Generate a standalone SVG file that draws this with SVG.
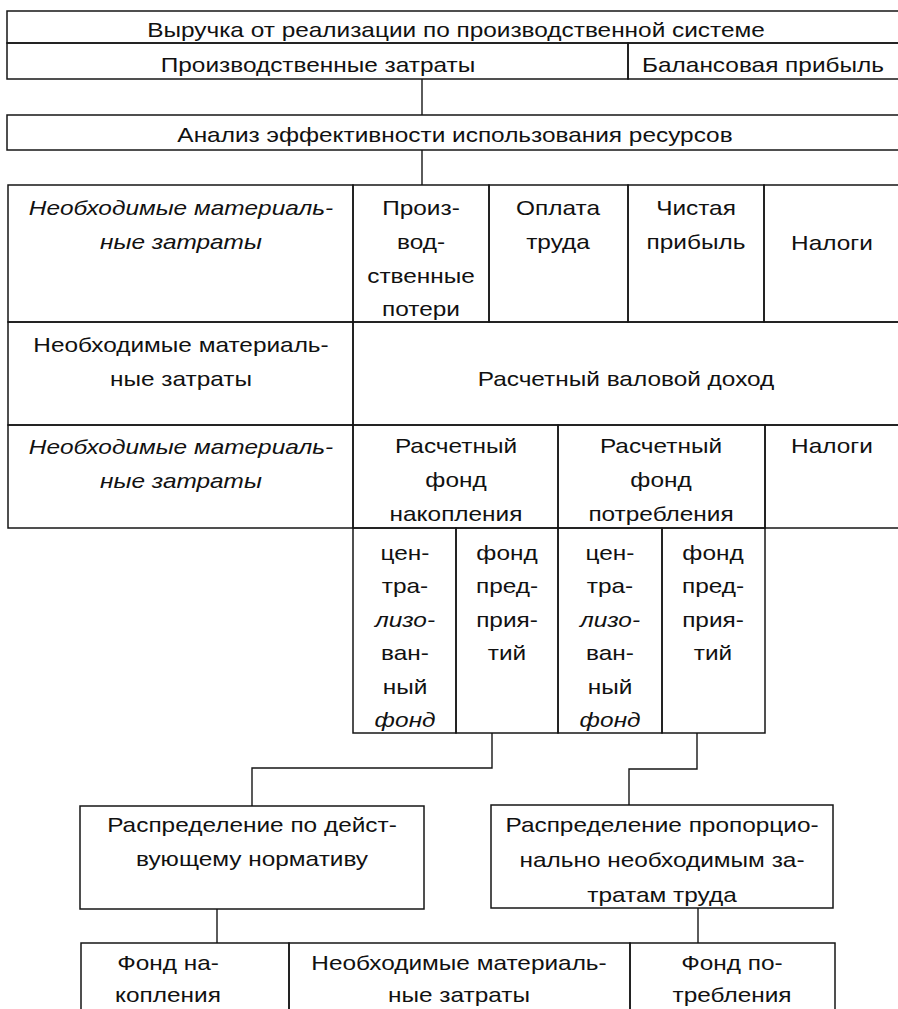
<svg xmlns="http://www.w3.org/2000/svg" width="898" height="1009" viewBox="0 0 898 1009">
<style>
rect{fill:none;stroke:#161616;stroke-width:1.5}
path{fill:none;stroke:#161616;stroke-width:1.4}
text{font-family:"Liberation Sans",Arial,sans-serif;font-size:20px;fill:#111;text-anchor:middle}
.i{font-style:italic}
</style>
<rect x="0" y="0" width="898" height="1009" style="fill:#fff;stroke:none"/>
<g id="n-vyruchka"><rect x="7" y="11" width="900" height="32"/><text transform="translate(456,37) scale(1.22 1)">Выручка от реализации по производственной системе</text></g>
<g id="n-proizv-zatraty"><rect x="7" y="43" width="621" height="36"/><text transform="translate(318,72) scale(1.22 1)">Производственные затраты</text></g>
<g id="n-balans-pribyl"><rect x="628" y="43" width="279" height="36"/><text transform="translate(763,72) scale(1.22 1)">Балансовая прибыль</text></g>
<g id="n-analiz"><rect x="7" y="115" width="900" height="35"/><text transform="translate(455,142) scale(1.22 1)">Анализ эффективности использования ресурсов</text></g>
<g id="n-a1"><rect x="8" y="185" width="345" height="137"/><text class="i" transform="translate(181,215) scale(1.22 1)"><tspan x="0" y="0">Необходимые материаль-</tspan><tspan x="0" y="34">ные затраты</tspan></text></g>
<g id="n-a2"><rect x="353" y="185" width="136" height="137"/><text transform="translate(421,215) scale(1.22 1)"><tspan x="0" y="0">Произ-</tspan><tspan x="0" y="34">вод-</tspan><tspan x="0" y="68">ственные</tspan><tspan x="0" y="101">потери</tspan></text></g>
<g id="n-a3"><rect x="489" y="185" width="139" height="137"/><text transform="translate(558,215) scale(1.22 1)"><tspan x="0" y="0">Оплата</tspan><tspan x="0" y="34">труда</tspan></text></g>
<g id="n-a4"><rect x="628" y="185" width="136" height="137"/><text transform="translate(696,215) scale(1.22 1)"><tspan x="0" y="0">Чистая</tspan><tspan x="0" y="34">прибыль</tspan></text></g>
<g id="n-a5"><rect x="764" y="185" width="143" height="137"/><text transform="translate(832,250) scale(1.22 1)">Налоги</text></g>
<g id="n-b1"><rect x="8" y="322" width="345" height="103"/><text transform="translate(181,352) scale(1.22 1)"><tspan x="0" y="0">Необходимые материаль-</tspan><tspan x="0" y="34">ные затраты</tspan></text></g>
<g id="n-b2"><rect x="353" y="322" width="554" height="103"/><text transform="translate(626,386) scale(1.22 1)">Расчетный валовой доход</text></g>
<g id="n-c1"><rect x="8" y="425" width="345" height="103"/><text class="i" transform="translate(181,454) scale(1.22 1)"><tspan x="0" y="0">Необходимые материаль-</tspan><tspan x="0" y="34">ные затраты</tspan></text></g>
<g id="n-c2"><rect x="353" y="425" width="205" height="103"/><text transform="translate(456,453) scale(1.22 1)"><tspan x="0" y="0">Расчетный</tspan><tspan x="0" y="34">фонд</tspan><tspan x="0" y="68">накопления</tspan></text></g>
<g id="n-c3"><rect x="558" y="425" width="207" height="103"/><text transform="translate(661,453) scale(1.22 1)"><tspan x="0" y="0">Расчетный</tspan><tspan x="0" y="34">фонд</tspan><tspan x="0" y="68">потребления</tspan></text></g>
<g id="n-c4"><rect x="765" y="425" width="142" height="103"/><text transform="translate(832,453) scale(1.22 1)">Налоги</text></g>
<g id="n-s1"><rect x="353" y="528" width="103" height="205"/><text transform="translate(405,560) scale(1.22 1)"><tspan x="0" y="0">цен-</tspan><tspan x="0" y="33.5">тра-</tspan><tspan class="i" x="0" y="67">лизо-</tspan><tspan x="0" y="100.5">ван-</tspan><tspan x="0" y="134">ный</tspan><tspan class="i" x="0" y="167">фонд</tspan></text></g>
<g id="n-s2"><rect x="456" y="528" width="102" height="205"/><text transform="translate(507,560) scale(1.22 1)"><tspan x="0" y="0">фонд</tspan><tspan x="0" y="33.5">пред-</tspan><tspan x="0" y="67">прия-</tspan><tspan x="0" y="100.5">тий</tspan></text></g>
<g id="n-s3"><rect x="558" y="528" width="104" height="205"/><text transform="translate(610,560) scale(1.22 1)"><tspan x="0" y="0">цен-</tspan><tspan x="0" y="33.5">тра-</tspan><tspan class="i" x="0" y="67">лизо-</tspan><tspan x="0" y="100.5">ван-</tspan><tspan x="0" y="134">ный</tspan><tspan class="i" x="0" y="167">фонд</tspan></text></g>
<g id="n-s4"><rect x="662" y="528" width="103" height="205"/><text transform="translate(713,560) scale(1.22 1)"><tspan x="0" y="0">фонд</tspan><tspan x="0" y="33.5">пред-</tspan><tspan x="0" y="67">прия-</tspan><tspan x="0" y="100.5">тий</tspan></text></g>
<g id="n-raspr-norm"><rect x="80" y="806" width="344" height="103"/><text transform="translate(252,832) scale(1.22 1)"><tspan x="0" y="0">Распределение по дейст-</tspan><tspan x="0" y="34">вующему нормативу</tspan></text></g>
<g id="n-raspr-prop"><rect x="491" y="805" width="342" height="103"/><text transform="translate(662,832) scale(1.22 1)"><tspan x="0" y="0">Распределение пропорцио-</tspan><tspan x="0" y="35">нально необходимым за-</tspan><tspan x="0" y="70">тратам труда</tspan></text></g>
<g id="n-fond-nak"><rect x="81" y="943" width="208" height="80"/><text transform="translate(168,970) scale(1.22 1)"><tspan x="0" y="0">Фонд на-</tspan><tspan x="0" y="32">копления</tspan></text></g>
<g id="n-neobh-bottom"><rect x="289" y="943" width="341" height="80"/><text transform="translate(459,970) scale(1.22 1)"><tspan x="0" y="0">Необходимые материаль-</tspan><tspan x="0" y="32">ные затраты</tspan></text></g>
<g id="n-fond-potr"><rect x="630" y="943" width="205" height="80"/><text transform="translate(732,970) scale(1.22 1)"><tspan x="0" y="0">Фонд по-</tspan><tspan x="0" y="32">требления</tspan></text></g>
<g id="connectors">
<path d="M422,79 V115"/>
<path d="M422,150 V185"/>
<path d="M492,733 V768 H252 V806"/>
<path d="M697,733 V769 H629 V805"/>
<path d="M217,909 V943"/>
<path d="M698,908 V943"/>
</g>
</svg>
